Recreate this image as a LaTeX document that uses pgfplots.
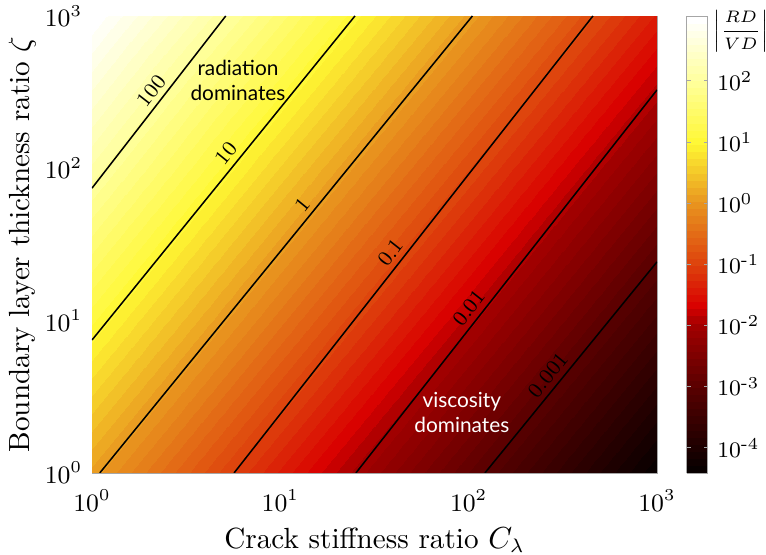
\documentclass[border=0pt]{standalone}
\usepackage{amsmath}
\usepackage{pgfplots}
\pgfplotsset{compat=1.18}
\usepackage{pgfplotstable}
\usepackage{fontspec}
\newfontfamily\annotfont{Lato}

% |RD/VD| on a decade grid of crack stiffness ratio and boundary layer thickness ratio
\pgfplotstableread{
Cl    zeta  ratio
1     1     1.26
10    1     0.0398
100   1     0.00126
1000  1     3.98e-5
1     10    12.6
10    10    0.398
100   10    0.0126
1000  10    3.98e-4
1     100   126
10    100   3.98
100   100   0.126
1000  100   0.00398
1     1000  1259
10    1000  39.8
100   1000  1.26
1000  1000  0.0398
}\gridtable

% colormap positions are log10|RD/VD| + 4.41, scaled by 100
\pgfplotsset{
  colormap={darkhot}{
    rgb(0pt)=(0.03,0,0);
    rgb(141pt)=(0.36,0,0);
    rgb(241pt)=(0.64,0,0);
    rgb(271pt)=(0.85,0,0);
    rgb(341pt)=(0.87,0.26,0.05);
    rgb(441pt)=(0.91,0.58,0.12);
    rgb(541pt)=(1,0.97,0.2);
    rgb(641pt)=(1,1,0.6);
    rgb(747pt)=(1,1,1)
  },
  cline/.style={black, line width=0.55pt},
}
\tikzset{clabeltext/.style={sloped, above, inner sep=1.8pt, font=\fontsize{7.6}{8}\selectfont}}

\begin{document}
\begin{tikzpicture}
\begin{axis}[
  scale only axis,
  width=203.4pt, height=164.5pt,
  xmode=log, ymode=log,
  xmin=1, xmax=1000, ymin=1, ymax=1000,
  enlargelimits=false,
  axis line style={gray!70, line width=0.3pt},
  tick style={draw=none},
  tick label style={font=\fontsize{8.6}{10}\selectfont},
  xticklabel style={yshift=-2.5pt},
  label style={font=\fontsize{10.5}{12}\selectfont},
  xlabel={Crack stiffness ratio $C_\lambda$},
  ylabel={Boundary layer thickness ratio $\zeta$},
  ylabel shift=-3.6pt,
  xlabel shift=-1pt,
  colormap name=darkhot,
  point meta min=-4.41, point meta max=3.06,
  colorbar,
  colorbar style={
    width=7.56pt,
    at={(parent axis.north east)}, anchor=north west, xshift=2.1pt,
    ytick={-4,-3,-2,-1,0,1,2},
    yticklabels={$10^{\text{-}4}$,$10^{\text{-}3}$,$10^{\text{-}2}$,$10^{\text{-}1}$,$10^{0}$,$10^{1}$,$10^{2}$},
    yticklabel style={font=\fontsize{8.0}{10}\selectfont},
    axis line style={gray!70, line width=0.3pt},
    ytick style={draw=gray!70, line width=0.3pt},
    ytick align=inside,
    major tick length=1.44pt,
  },
]
\addplot[contour filled={number=64}, mesh/cols=4, point meta=explicit]
  table[x=Cl, y=zeta, meta expr={log10(\thisrow{ratio})}] {\gridtable};

% contour lines of |RD/VD|
\addplot[cline] coordinates {(1,74.1) (5.13,1000)}
  node[pos=0.52, clabeltext] {100};
\addplot[cline] coordinates {(1,7.46) (24.9,1000)}
  node[pos=0.55, clabeltext] {10};
\addplot[cline] coordinates {(1.10,1) (104.7,1000)}
  node[pos=0.57, clabeltext] {1};
\addplot[cline] coordinates {(5.68,1) (457,1000)}
  node[pos=0.465, clabeltext] {0.1};
\addplot[cline] coordinates {(25.2,1) (1000,327)}
  node[pos=0.41, clabeltext] {0.01};
\addplot[cline] coordinates {(122,1) (1000,24.3)}
  node[pos=0.425, clabeltext] {0.001};

\coordinate (RAD) at (axis cs:5.96,380);
\coordinate (VIS) at (axis cs:92,2.51);
\coordinate (SW) at (rel axis cs:0,0);
\coordinate (NE) at (rel axis cs:1,1);
\end{axis}
\node[font=\annotfont\fontsize{7.5}{9}\selectfont, align=center] at (RAD) {radiation\\dominates};
\node[font=\annotfont\fontsize{7.5}{9}\selectfont, align=center, text=white] at (VIS) {viscosity\\dominates};
\node[anchor=north west, inner sep=0pt, font=\fontsize{6.3}{7.5}\selectfont]
  at ([xshift=20.2pt, yshift=2.2pt]NE) {$\displaystyle\left|\frac{RD}{VD}\right|$};
\pgfresetboundingbox
\useasboundingbox ([xshift=-33.12pt, yshift=-29.52pt]SW) rectangle ([xshift=39.24pt, yshift=5.76pt]NE);
\end{tikzpicture}
\end{document}
